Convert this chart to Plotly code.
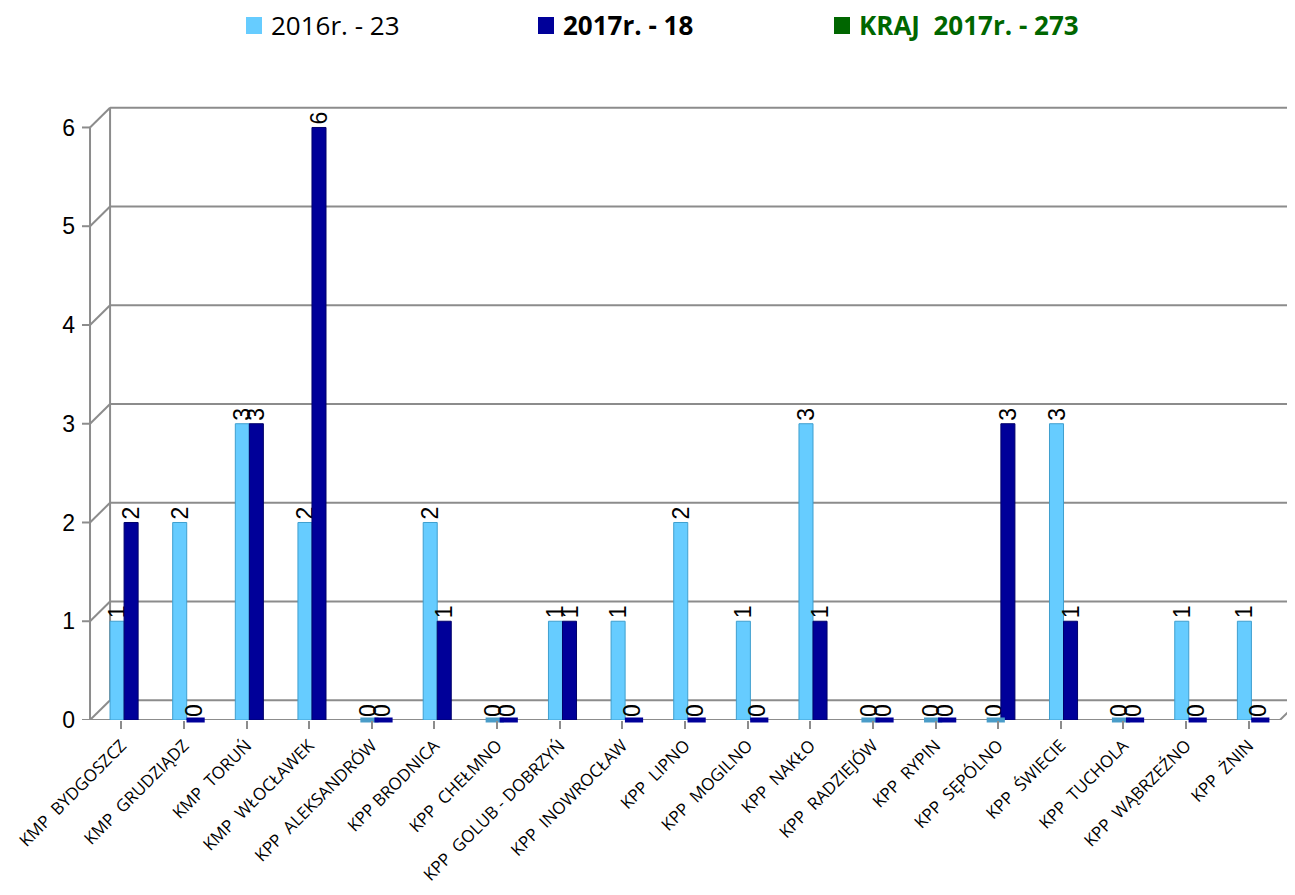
import plotly.graph_objects as go

categories = ["KMP  BYDGOSZCZ", "KMP  GRUDZIĄDZ", "KMP  TORUŃ", "KMP  WŁOCŁAWEK",
              "KPP  ALEKSANDRÓW", "KPP BRODNICA", "KPP  CHEŁMNO", "KPP  GOLUB - DOBRZYŃ",
              "KPP  INOWROCŁAW", "KPP  LIPNO", "KPP  MOGILNO", "KPP  NAKŁO",
              "KPP  RADZIEJÓW", "KPP  RYPIN", "KPP  SĘPÓLNO", "KPP  ŚWIECIE",
              "KPP  TUCHOLA", "KPP  WĄBRZEŹNO", "KPP  ŻNIN"]
values_2016 = [1, 2, 3, 2, 0, 2, 0, 1, 1, 2, 1, 3, 0, 0, 0, 3, 0, 1, 1]
values_2017 = [2, 0, 3, 6, 0, 1, 0, 1, 0, 0, 0, 1, 0, 0, 3, 1, 0, 0, 0]
legend_names = ["2016r. - 23", "<b>2017r. - 18</b>", "<b>KRAJ  2017r. - 273</b>"]
legend_colors = ["#66CCFF", "#000099", "#006600"]
legend_text_colors = ["black", "black", "#006600"]
y_ticks = [0, 1, 2, 3, 4, 5, 6]

LIGHT = "#66CCFF"
DARK = "#000099"
GRID = "#8C8C8C"

# page offset of the figure (default body margin)
OFF = 8
W, H = 1295, 895
# target plot area in page pixels
P_LEFT, P_RIGHT, P_TOP, P_BOTTOM = 82, 1295, 85, 720
ML = P_LEFT - OFF
MT = P_TOP - OFF
MR = W - (P_RIGHT - OFF)
MB = H - (P_BOTTOM - OFF)
PW, PH = P_RIGHT - P_LEFT, P_BOTTOM - P_TOP


def px2paper(px, py):
    return (px - P_LEFT) / PW, (P_BOTTOM - py) / PH


n = len(categories)
xs = list(range(n))
bw = 0.224
off_light = -0.18
off_dark = 0.044
label_font = dict(family="Liberation Sans, Arial", size=23, color="black")

fig = go.Figure()
fig.add_trace(go.Bar(
    x=xs, y=values_2016, name="2016r. - 23", width=bw, offset=off_light,
    marker=dict(color=LIGHT, line=dict(color="#3F9FCF", width=1)),
    text=[str(v) for v in values_2016], textposition="outside", textangle=-90,
    constraintext="none", cliponaxis=False, textfont=label_font, showlegend=False,
))
fig.add_trace(go.Bar(
    x=xs, y=values_2017, name="2017r. - 18", width=bw, offset=off_dark,
    marker=dict(color=DARK, line=dict(color="#00006A", width=1)),
    text=[str(v) for v in values_2017], textposition="outside", textangle=-90,
    constraintext="none", cliponaxis=False, textfont=label_font, showlegend=False,
))
# flat "cylinder tops" for zero values
z16 = [i for i, v in enumerate(values_2016) if v == 0]
z17 = [i for i, v in enumerate(values_2017) if v == 0]
fig.add_trace(go.Scatter(
    x=[i + off_light + bw / 2 + 0.03 for i in z16], y=[values_2016[i] for i in z16],
    mode="markers", showlegend=False, cliponaxis=False, hoverinfo="skip",
    marker=dict(symbol="line-ew", size=13, line=dict(color="#4A9CC8", width=5)),
))
fig.add_trace(go.Scatter(
    x=[i + off_dark + bw / 2 + 0.03 for i in z17], y=[values_2017[i] for i in z17],
    mode="markers", showlegend=False, cliponaxis=False, hoverinfo="skip",
    marker=dict(symbol="line-ew", size=13, line=dict(color=DARK, width=5)),
))

# 3D-like back wall / axes
dx = 0.32
dy = 0.2
x_left = -0.5
x_right = n - 0.5
shapes = []
line = dict(color=GRID, width=2)
for v in y_ticks:
    shapes.append(dict(type="line", xref="x", yref="y", x0=x_left + dx, x1=x_right + 1,
                       y0=v + dy, y1=v + dy, line=line, layer="below"))
    shapes.append(dict(type="line", xref="x", yref="y", x0=x_left, x1=x_left + dx,
                       y0=v, y1=v + dy, line=line, layer="below"))
    shapes.append(dict(type="line", xref="x", yref="y", x0=x_left - 0.13, x1=x_left,
                       y0=v, y1=v, line=line, layer="below"))
shapes.append(dict(type="line", xref="x", yref="y", x0=x_left, x1=x_left,
                   y0=0, y1=max(y_ticks), line=line, layer="below"))
shapes.append(dict(type="line", xref="x", yref="y", x0=x_left + dx, x1=x_left + dx,
                   y0=dy, y1=max(y_ticks) + dy, line=line, layer="below"))
shapes.append(dict(type="line", xref="x", yref="y", x0=x_left, x1=x_right,
                   y0=0, y1=0, line=line, layer="below"))
shapes.append(dict(type="line", xref="x", yref="y", x0=x_right, x1=x_right + dx,
                   y0=0, y1=dy, line=line, layer="below"))

# manual legend
annotations = []
legend_sq_x = [246, 538, 834]
for name, col, tcol, sx in zip(legend_names, legend_colors, legend_text_colors, legend_sq_x):
    x0, y0 = px2paper(sx, 34)
    x1, y1 = px2paper(sx + 16, 17)
    shapes.append(dict(type="rect", xref="paper", yref="paper", x0=x0, x1=x1, y0=y0, y1=y1,
                       fillcolor=col, line=dict(width=0)))
    tx, ty = px2paper(sx + 23, 25)
    annotations.append(dict(xref="paper", yref="paper", x=tx, y=ty, xanchor="left",
                            yanchor="middle", text=name, showarrow=False,
                            font=dict(family="Open Sans", size=26, color=tcol)))

fig.update_layout(
    width=W, height=H,
    margin=dict(l=ML, r=MR, t=MT, b=MB, autoexpand=False),
    plot_bgcolor="white", paper_bgcolor="white",
    barmode="overlay",
    shapes=shapes, annotations=annotations,
    showlegend=False,
    xaxis=dict(
        tickmode="array", tickvals=xs,
        ticktext=[c.replace("  ", " \u00a0") for c in categories], tickangle=-45,
        range=[x_left - 0.128, x_right + 0.24], tickson="boundaries",
        ticks="outside", ticklen=8, tickcolor=GRID, tickwidth=2,
        showgrid=False, zeroline=False, showline=False, automargin=False,
        ticklabeloverflow="allow",
        tickfont=dict(family="Open Sans", size=17, color="black"),
    ),
    yaxis=dict(
        range=[0, 6.43], tickvals=y_ticks, ticks="", showgrid=False,
        zeroline=False, showline=False, ticklabelstandoff=6, automargin=False,
        tickfont=dict(family="Liberation Sans, Arial", size=23, color="black"),
    ),
)

fig.write_html("out.html")
